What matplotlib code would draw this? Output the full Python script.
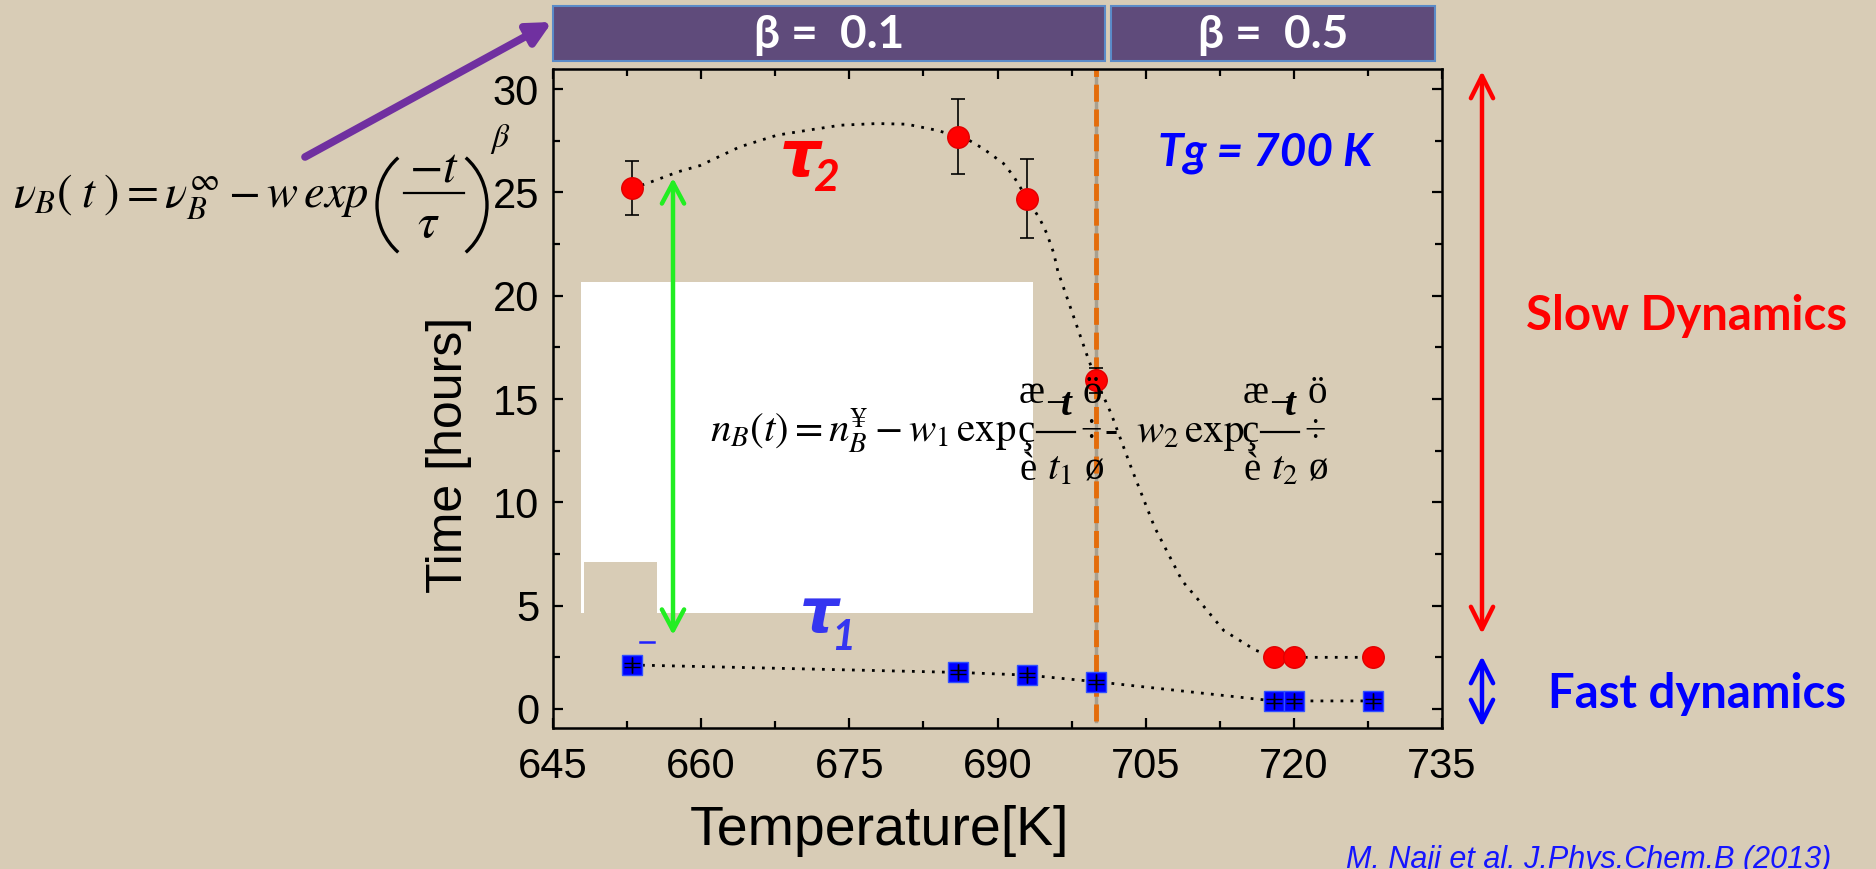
import matplotlib
matplotlib.use("Agg")
import matplotlib.pyplot as plt
from matplotlib.patches import Rectangle, FancyArrowPatch, ArrowStyle, Arc
from matplotlib.lines import Line2D
from matplotlib.ticker import MultipleLocator
from matplotlib.transforms import Affine2D

# ---------------- data ----------------
temperature = [653, 686, 693, 700, 718, 720, 728]
tau2 = [25.2, 27.7, 24.7, 15.9, 2.5, 2.5, 2.5]
tau2_err = [1.3, 1.8, 1.9, 0.6, 0.2, 0.2, 0.2]
tau1 = [2.13, 1.77, 1.64, 1.32, 0.39, 0.39, 0.39]
tau1_err = [0.1, 0.1, 0.1, 0.1, 0.1, 0.1, 0.1]

# dotted guide curve for tau2
fit_T = [653.0, 654.5, 657.7, 659.9, 663.9, 667.7, 670.7, 674.1, 677.8, 680.8,
         683.9, 686.0, 687.2, 688.6, 690.6, 691.6, 693.0, 694.3, 695.0, 695.7,
         696.1, 699.0, 700.0, 701.5, 703.6, 705.9, 708.7, 710.3, 712.9, 716.1,
         718.0, 720.0, 728.0]
fit_tau2 = [25.2, 25.43, 26.0, 26.3, 27.2, 27.77, 28.0, 28.25, 28.33, 28.3,
            28.0, 27.7, 27.5, 27.1, 26.4, 25.8, 24.7, 23.7, 23.0, 22.05,
            21.2, 17.2, 15.9, 14.3, 11.6, 8.8, 6.2, 5.3, 3.8, 2.85,
            2.5, 2.5, 2.5]

x_ticks = [645, 660, 675, 690, 705, 720, 735]
y_ticks = [0, 5, 10, 15, 20, 25, 30]
tg = 700
beta_labels = ["β =  0.1", "β =  0.5"]

# ---------------- figure ----------------
W, H = 1876, 869
plt.rcParams["mathtext.fontset"] = "stix"
fig = plt.figure(figsize=(W / 100, H / 100), dpi=100)
BG = "#D8CCB6"
fig.patch.set_facecolor(BG)

# pixel transform, origin at top-left of the picture
PX = Affine2D().scale(1 / 100, -1 / 100).translate(0, H / 100) + fig.dpi_scale_trans


def fx(x):
    return x / W


def fy(y):
    return 1 - y / H


def ftext(x, y, s, **kw):
    return fig.text(fx(x), fy(y), s, **kw)


def fline(xs, ys, **kw):
    fig.add_artist(Line2D(xs, ys, transform=PX, **kw))


def farrow(p1, p2, style, color, lw, zorder=5):
    a = FancyArrowPatch(p1, p2, transform=PX, arrowstyle=style,
                        mutation_scale=1, color=color, lw=lw,
                        shrinkA=0, shrinkB=0, zorder=zorder)
    fig.add_artist(a)


def frect(x0, y0, x1, y1, **kw):
    fig.add_artist(Rectangle((x0, y0), x1 - x0, y1 - y0, transform=PX, **kw))


ax = fig.add_axes([fx(553), fy(728), (1442 - 553) / W, (728 - 69) / H])
ax.set_facecolor("none")
ax.set_xlim(645, 735)
ax.set_ylim(-0.92, 30.97)
ax.set_xticks(x_ticks)
ax.set_yticks(y_ticks)
ax.xaxis.set_minor_locator(MultipleLocator(7.5))
ax.yaxis.set_minor_locator(MultipleLocator(2.5))
for s in ax.spines.values():
    s.set_linewidth(1.8)
ax.tick_params(which="both", direction="in", top=True, right=True, width=1.6)
ax.tick_params(which="major", length=7.5)
ax.tick_params(which="minor", length=5)
ax.tick_params(axis="x", labelsize=30, pad=14)
ax.tick_params(axis="y", labelsize=30, pad=10)
for lab in ax.get_xticklabels() + ax.get_yticklabels():
    lab.set_fontfamily("Liberation Sans")

# Tg line
ax.axvline(tg, ymin=0.01, ymax=1, color="#A8A090", lw=2.5, zorder=1)
ax.axvline(tg, ymin=0.01, ymax=1, color="#E46C0A", lw=3.5,
           linestyle=(0, (3.5, 1.6)), zorder=2)

# guide lines
ax.plot(fit_T, fit_tau2, color="black", lw=2, linestyle=(0, (1, 2.6)), zorder=3)
ax.plot(temperature, tau1, color="black", lw=2, linestyle=(0, (1, 2.6)), zorder=3)

# tau2: red circles
ax.errorbar(temperature, tau2, yerr=tau2_err, fmt="none", ecolor="black",
            elinewidth=1.2, capsize=5, capthick=1.2, zorder=4)
ax.plot(temperature, tau2, "o", color="#FF0000", markersize=15.5,
        markeredgecolor="#E00000", zorder=5)

# tau1: blue squares with error crosses on top
ax.plot(temperature, tau1, "s", color="#0000FF", markersize=14,
        markeredgecolor="#3050FF", zorder=5)
ax.errorbar(temperature, tau1, yerr=tau1_err, xerr=[0] * len(tau1), fmt="none",
            ecolor="black", elinewidth=1.0, capsize=6, capthick=1.0, zorder=6)

# axis labels
ftext(879, 831, "Temperature[K]", fontsize=40, family="Liberation Sans",
      ha="center", va="center")
ftext(449, 455, "Time [hours]", fontsize=36, family="Liberation Sans",
      ha="center", va="center", rotation=90)

# ---------------- annotations ----------------
# beta boxes
boxes = [(553, 1105), (1111, 1435)]
for (x0, x1), lab in zip(boxes, beta_labels):
    frect(x0, 6, x1, 61, facecolor="#5F4B7B", edgecolor="#5B8BC8", lw=1.5,
          zorder=2)
    ftext((x0 + x1) / 2, 35, lab, fontsize=33, family="Lato",
          fontweight="bold", color="white", ha="center", va="center", zorder=3)

# white boxes behind 2nd equation
frect(581, 282, 1033, 562, facecolor="white", edgecolor="none", zorder=2)
frect(657, 561, 1033, 613, facecolor="white", edgecolor="none", zorder=2)
frect(581, 561, 584, 613, facecolor="white", edgecolor="none", zorder=2)

# equation 1 (stretched exponential), built from pieces
ftext(13, 207, r"$\nu_B(\;t\;) = \nu_B^{\infty} - w\,exp$", fontsize=33.5,
      ha="left", va="baseline", zorder=4)
ftext(434, 182, r"$-t$", fontsize=35, ha="center", va="baseline", zorder=4)
fline([404, 464], [193, 193], color="black", lw=1.6, zorder=4)
ftext(428, 237, r"$\tau$", fontsize=35, ha="center", va="baseline", zorder=4)
fig.add_artist(Arc((437, 205), 120, 124, theta1=129.3, theta2=230.7,
                   transform=PX, color="black", lw=2.4, zorder=4))
fig.add_artist(Arc((427, 205), 120, 124, theta1=-50.7, theta2=50.7,
                   transform=PX, color="black", lw=2.4, zorder=4))
ftext(490, 147, r"$\beta$", fontsize=24, ha="left", va="baseline", zorder=4)

# purple arrow
farrow((305, 157), (552, 22), ArrowStyle("-|>", head_length=14, head_width=7),
       "#7030A0", 5.5, zorder=4)

# equation 2 (garbled symbol-font rendering), built from pieces
EQ = dict(fontsize=28, family="Liberation Serif", va="baseline", zorder=4,
          color="black")
ftext(710, 442, r"$n_B(t) = n_B^{¥} - w_1\,\mathrm{exp}$", fontsize=29.5,
      va="baseline", zorder=4)
for off, sub in [(0, "1"), (224, "2")]:
    ftext(1017 + off, 442, "ç", **EQ)
    ftext(1019 + off, 403, "æ", **EQ)
    ftext(1045 + off, 415, "−", **EQ)
    ftext(1061 + off, 415, "t", fontsize=28, family="Liberation Serif",
          style="italic", fontweight="bold", va="baseline", zorder=4)
    ftext(1083 + off, 403, "ö", **EQ)
    fline([1037 + off, 1075 + off], [432, 432], color="black", lw=1.6, zorder=4)
    ftext(1080 + off, 442, "÷", **EQ)
    ftext(1019 + off, 480, "è", **EQ)
    ftext(1047 + off, 480, r"$t_%s$" % sub, fontsize=29.5, va="baseline",
          zorder=4)
    ftext(1085 + off, 480, "ø", **EQ)
ftext(1104, 442, "-", **EQ)
ftext(1136, 442, r"$w_2\,\mathrm{exp}$", fontsize=29.5, va="baseline", zorder=4)

# green arrow (range between tau1 and tau2)
farrow((673, 635), (673, 178), ArrowStyle("<->", head_length=15, head_width=8),
       "#22EE22", 3.2, zorder=5)
# small blue mark
fline([640, 654], [642, 642], color="#2020FF", lw=1.8, zorder=4)

# tau labels
ftext(780, 176, "τ", fontsize=46, family="DejaVu Sans", fontweight="bold",
      style="italic", color="#FF0000", va="baseline", zorder=4)
ftext(813, 191, "2", fontsize=32, family="Lato", fontweight="bold",
      style="italic", color="#FF0000", va="baseline", zorder=4)
ftext(800, 632, "τ", fontsize=44, family="DejaVu Sans", fontweight="bold",
      style="italic", color="#3535F0", va="baseline", zorder=4)
ftext(831, 650, "1", fontsize=30, family="Lato", fontweight="bold",
      style="italic", color="#3535F0", va="baseline", zorder=4)

ftext(1265, 153, "Tg = 700 K", fontsize=33, family="Lato", fontweight="bold",
      style="italic", color="#0000FF", ha="center", va="center", zorder=4)

# slow / fast dynamics arrows
farrow((1482, 634), (1482, 71), ArrowStyle("<->", head_length=16, head_width=8),
       "#FF0000", 3.2)
farrow((1482, 727), (1482, 656), ArrowStyle("<->", head_length=16, head_width=8),
       "#0000FF", 3.2)
ftext(1687, 316, "Slow Dynamics", fontsize=34, family="Lato", fontweight="bold",
      color="#FF0000", ha="center", va="center")
ftext(1697, 694, "Fast dynamics", fontsize=34, family="Lato", fontweight="bold",
      color="#0000FF", ha="center", va="center")

# citation (cut by the lower edge, as in the original)
ftext(1346, 868, "M. Naji et al. J.Phys.Chem.B (2013)", fontsize=22,
      family="Liberation Sans", style="italic", color="#1515FF",
      ha="left", va="baseline")

fig.savefig("out.png", dpi=100, facecolor=BG)
